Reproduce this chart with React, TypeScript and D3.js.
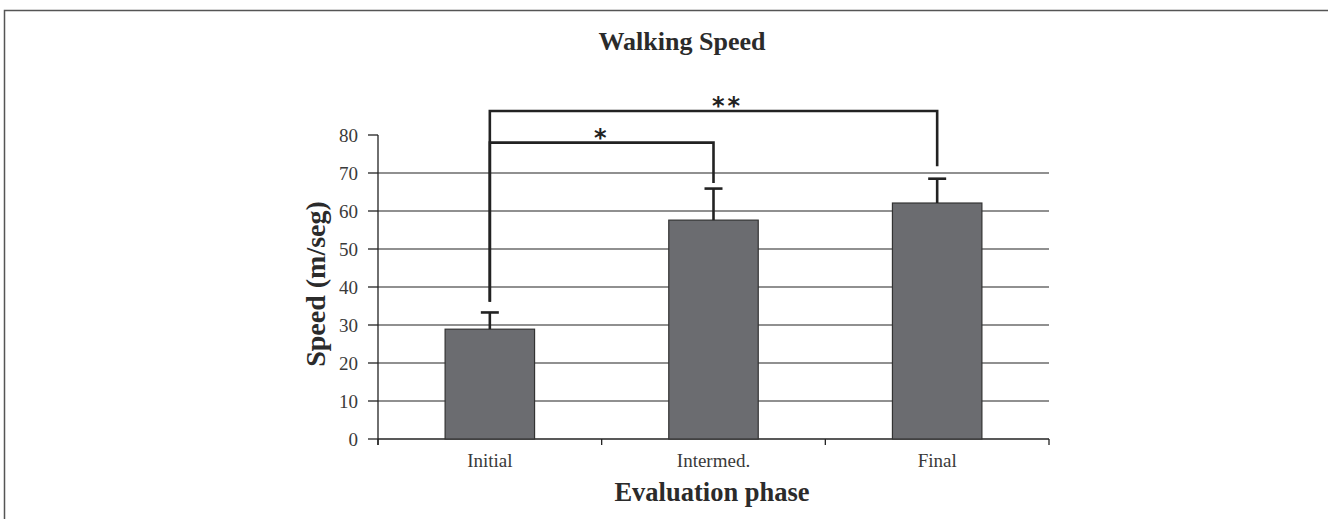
import React from "react";
import * as d3 from "d3";

const phases = ["Initial", "Intermed.", "Final"];
const speeds = [28.9, 57.6, 62.1];
const errors = [4.4, 8.3, 6.4];
const yTicks = [0, 10, 20, 30, 40, 50, 60, 70, 80];
// significance brackets: from phase, to phase, bracket level, lower end levels, label
const sigFrom = ["Initial", "Initial"];
const sigTo = ["Intermed.", "Final"];
const sigLevel = [78, 86.3];
const sigStartEnd = [36.1, 36.1];
const sigEnd = [67.4, 71.8];
const sigLabel = ["*", "**"];

const W = 1328;
const H = 519;
const serif = "'Liberation Serif', 'DejaVu Serif', serif";
const ink = "#2b2b2b";

const App = () => {
  const left = 378;
  const right = 1049;
  const top = 135;
  const bottom = 439;

  const x = d3.scaleBand().domain(phases).range([left, right]).paddingInner(0.6).paddingOuter(0.3);
  const y = d3.scaleLinear().domain([0, 80]).range([bottom, top]);
  const step = x.step();
  const cx = (p) => (x(p) as number) + x.bandwidth() / 2;
  const boundaries = d3.range(phases.length + 1).map((i) => left + i * step);

  return (
    <svg width={W} height={H} style={{ position: "absolute", left: 0, top: 0, background: "#fff" }}>
      {/* frame */}
      <path d={`M4.5,${H} V10.5 H${W}`} fill="none" stroke="#555" strokeWidth={1.5} />

      <text x={682} y={50} textAnchor="middle" fontFamily={serif} fontWeight="bold" fontSize={26} fill={ink}>
        Walking Speed
      </text>

      {/* gridlines */}
      {yTicks.filter((t) => t > 0 && t < 80).map((t) => (
        <line key={"g" + t} x1={left} x2={right} y1={y(t)} y2={y(t)} stroke="#222" strokeWidth={1.2} />
      ))}

      {/* y axis */}
      <line x1={left} x2={left} y1={y(80)} y2={bottom + 6} stroke="#222" strokeWidth={1.3} />
      {yTicks.map((t) => (
        <g key={"t" + t}>
          <line x1={left - 10} x2={left} y1={y(t)} y2={y(t)} stroke="#222" strokeWidth={1.3} />
          <text x={358} y={y(t)} dy="0.35em" textAnchor="end" fontFamily={serif} fontSize={19} fill="#3a3a3a">
            {t}
          </text>
        </g>
      ))}

      {/* x axis */}
      <line x1={left} x2={right} y1={bottom} y2={bottom} stroke="#222" strokeWidth={1.3} />
      {boundaries.map((b, i) => (
        <line key={"xb" + i} x1={b} x2={b} y1={bottom} y2={bottom + 6} stroke="#222" strokeWidth={1.3} />
      ))}

      {/* bars */}
      {phases.map((p, i) => (
        <rect key={p} x={x(p)} y={y(speeds[i])} width={x.bandwidth()} height={bottom - y(speeds[i])}
          fill="#6b6c70" stroke="#333" strokeWidth={1.2} />
      ))}

      {/* error bars */}
      {phases.map((p, i) => (
        <g key={"e" + p} stroke="#222" strokeWidth={2.6}>
          <line x1={cx(p)} x2={cx(p)} y1={y(speeds[i])} y2={y(speeds[i] + errors[i])} />
          <line x1={cx(p) - 9} x2={cx(p) + 9} y1={y(speeds[i] + errors[i])} y2={y(speeds[i] + errors[i])} />
        </g>
      ))}

      {/* significance brackets */}
      {sigLabel.map((lab, i) => {
        const x1 = cx(sigFrom[i]);
        const x2 = cx(sigTo[i]);
        const d = d3.line()([
          [x1, y(sigStartEnd[i])],
          [x1, y(sigLevel[i])],
          [x2, y(sigLevel[i])],
          [x2, y(sigEnd[i])],
        ]);
        const mx = i === 0 ? (x1 + x2) / 2 : cx(sigTo[0]) + 14;
        return (
          <g key={"s" + i}>
            <path d={d} fill="none" stroke="#222" strokeWidth={2.6} />
            <text x={mx} y={y(sigLevel[i]) + 3} textAnchor="middle" fontFamily="'DejaVu Sans', sans-serif"
              fontWeight="bold" fontSize={24} fill="#222" letterSpacing={3}>
              {lab}
            </text>
          </g>
        );
      })}

      {/* category labels */}
      {phases.map((p) => (
        <text key={"l" + p} x={cx(p)} y={467} textAnchor="middle" fontFamily={serif} fontSize={19} fill="#3a3a3a">
          {p}
        </text>
      ))}

      <text x={712} y={501} textAnchor="middle" fontFamily={serif} fontWeight="bold" fontSize={26.5} fill={ink}>
        Evaluation phase
      </text>
      <text transform="translate(325,284) rotate(-90)" textAnchor="middle" fontFamily={serif} fontWeight="bold"
        fontSize={28} fill={ink}>
        Speed (m/seg)
      </text>
    </svg>
  );
};

export default App;
